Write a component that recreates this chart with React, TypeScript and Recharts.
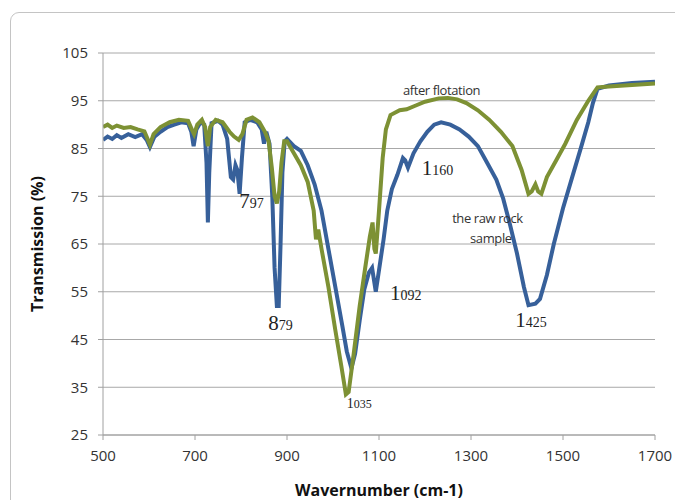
import { CartesianGrid, Label, Line, LineChart, ReferenceDot, XAxis, YAxis } from "recharts"

// raw rock sample (blue)
const rawWavenumber = [
  500, 510, 520, 530, 540, 555, 570, 585, 595, 602, 612, 625, 640, 655, 670, 685, 692, 697, 703, 712,
  720, 725, 728, 731, 736, 750, 760, 770, 778, 783, 788, 792, 797, 802, 808, 820, 835, 845, 850, 855,
  862, 868, 873, 878, 882, 886, 890, 895, 900, 915, 930, 945, 960, 975, 990, 1005, 1020, 1030, 1040, 1048,
  1058, 1068, 1078, 1085, 1093, 1100, 1110, 1118, 1128, 1140, 1152, 1157, 1163, 1175, 1190, 1205, 1220, 1235, 1255, 1275,
  1295, 1315, 1335, 1355, 1370, 1385, 1400, 1415, 1425, 1440, 1450, 1465, 1480, 1500, 1520, 1540, 1555, 1565, 1575, 1600,
  1650, 1700,
]
const rawTransmission = [
  86.8, 87.5, 87.0, 87.8, 87.2, 88.0, 87.4, 88.0, 86.8, 85.3, 87.5, 88.5, 89.5, 90.0, 90.5, 90.3, 88.5, 85.5, 89.0, 90.5,
  90.0, 82.0, 69.5, 80.0, 90.3, 90.8, 90.0, 87.0, 79.0, 78.5, 81.5, 80.5, 75.5, 83.0, 90.5, 91.0, 90.5, 89.0, 86.0, 88.5,
  86.0, 75.0, 60.0, 52.0, 52.0, 65.0, 80.0, 86.5, 87.0, 85.5, 84.5, 81.5, 77.5, 72.0, 64.0, 56.0, 48.0, 42.5, 39.0, 42.0,
  49.0, 55.5, 59.0, 60.0, 55.0, 59.5, 66.0, 72.0, 76.5, 79.5, 83.0, 82.5, 81.0, 84.0, 86.5, 88.5, 90.0, 90.5, 90.0, 89.0,
  87.5, 85.5, 82.0, 78.5, 74.5, 69.0, 63.0, 56.0, 52.2, 52.5, 53.5, 58.5, 65.0, 72.5, 79.0, 85.5, 90.5, 94.5, 97.5, 98.2,
  98.7, 99.0,
]

// after flotation (green)
const flotWavenumber = [
  500, 510, 520, 530, 545, 560, 575, 590, 597, 602, 610, 625, 645, 665, 685, 693, 698, 705, 715, 722,
  728, 733, 745, 760, 775, 785, 795, 803, 812, 825, 840, 852, 860, 867, 873, 878, 883, 888, 894, 900,
  915, 930, 945, 958, 963, 968, 975, 990, 1005, 1018, 1028, 1034, 1045, 1058, 1070, 1080, 1086, 1090, 1093, 1100,
  1108, 1115, 1125, 1145, 1160, 1180, 1200, 1230, 1250, 1270, 1290, 1315, 1340, 1365, 1390, 1410, 1425, 1432, 1440, 1446,
  1453, 1465, 1485, 1505, 1530, 1555, 1575, 1600, 1650, 1700,
]
const flotTransmission = [
  89.5, 90.0, 89.3, 89.8, 89.3, 89.5, 89.0, 88.6, 87.0, 85.8, 88.0, 89.5, 90.5, 91.0, 90.8, 89.0, 88.0, 90.0, 91.0, 89.5,
  85.5, 89.5, 91.0, 90.5, 88.5, 87.5, 86.8, 88.0, 91.0, 91.5, 90.5, 88.5, 86.5, 81.0, 75.0, 73.5, 76.0, 82.0, 86.5, 86.5,
  84.0, 81.5, 78.0, 72.0, 66.0, 68.0, 64.0, 56.0, 47.0, 39.5, 33.5, 34.0, 42.0, 52.0, 60.0, 66.5, 69.5, 64.0, 63.0, 72.0,
  83.0, 89.0, 92.0, 93.0, 93.2, 94.0, 94.8, 95.5, 95.6, 95.3, 94.5, 93.0, 91.0, 88.5, 85.5, 80.5, 75.5, 76.0, 77.5, 76.0,
  75.5, 79.0, 82.5, 86.0, 91.0, 95.0, 97.8, 98.0, 98.3, 98.6,
]

const xTicks = [500, 700, 900, 1100, 1300, 1500, 1700]
const yTicks = [25, 35, 45, 55, 65, 75, 85, 95, 105]

// peak labels: big leading digit + small rest
const peakLabels = [
  { w: 796, t: 72.5, big: "7", small: "97" },
  { w: 859, t: 47, big: "8", small: "79" },
  { w: 1124, t: 53.3, big: "1", small: "092" },
  { w: 1193, t: 79.5, big: "1", small: "160" },
  { w: 1396, t: 47.6, big: "1", small: "425" },
]
const curveNotes = [
  { w: 1152, t: 96.2, text: "after flotation" },
  { w: 1259, t: 69.4, text: "the raw rock" },
  { w: 1298, t: 65.2, text: "sample" },
]

const rawData = rawWavenumber.map((w, i) => ({ w, t: rawTransmission[i] }))
const flotData = flotWavenumber.map((w, i) => ({ w, t: flotTransmission[i] }))

const tickStyle = { fontFamily: "Open Sans", fontSize: 15, fill: "#333" }

export default function App() {
  return (
    <div style={{ position: "absolute", left: 0, top: 0, width: 675, height: 500, overflow: "hidden", background: "#fff" }}>
      <div
        style={{
          position: "absolute",
          left: 10,
          top: 12,
          width: 700,
          height: 520,
          border: "1px solid #c4c4c4",
          borderRadius: 9,
        }}
      />
      <LineChart width={675} height={500} margin={{ top: 53, right: 20, bottom: 35, left: 0 }} style={{ position: "absolute", left: 0, top: 0 }}>
        <CartesianGrid vertical={false} stroke="#a8a8a8" />
        <XAxis
          dataKey="w"
          type="number"
          domain={[500, 1700]}
          ticks={xTicks}
          height={30}
          stroke="#a0a0a0"
          tickSize={5}
          tickMargin={10}
          tick={tickStyle}
          allowDataOverflow
        >
          <Label
            content={({ viewBox }: any) => (
              <text
                x={viewBox.x + viewBox.width / 2}
                y={viewBox.y + 61}
                textAnchor="middle"
                fontFamily="Open Sans"
                fontWeight="bold"
                fontSize={16}
                fill="#111"
              >
                Wavernumber (cm-1)
              </text>
            )}
          />
        </XAxis>
        <YAxis
          type="number"
          domain={[25, 105]}
          ticks={yTicks}
          width={103}
          stroke="#a0a0a0"
          tickSize={5}
          tickMargin={10}
          tick={tickStyle}
          allowDataOverflow
        >
          <Label
            content={({ viewBox }: any) => {
              const cx = 37
              const cy = viewBox.y + viewBox.height / 2
              return (
                <text
                  x={cx}
                  y={cy}
                  transform={`rotate(-90, ${cx}, ${cy})`}
                  textAnchor="middle"
                  dominantBaseline="central"
                  fontFamily="Open Sans"
                  fontWeight="bold"
                  fontSize={16}
                  fill="#111"
                >
                  Transmission (%)
                </text>
              )
            }}
          />
        </YAxis>
        <Line data={rawData} dataKey="t" stroke="#37609a" strokeWidth={4} dot={false} isAnimationActive={false} />
        <Line data={flotData} dataKey="t" stroke="#7d9134" strokeWidth={4} dot={false} isAnimationActive={false} />
        {peakLabels.map((p) => (
          <ReferenceDot
            key={p.big + p.small}
            x={p.w}
            y={p.t}
            r={0}
            fill="none"
            stroke="none"
            label={{
              content: ({ viewBox }: any) => (
                <text x={viewBox.x} y={viewBox.y} fill="#222">
                  <tspan fontFamily="Liberation Serif" fontSize={21}>{p.big}</tspan>
                  <tspan fontFamily="Liberation Serif" fontSize={14}>{p.small}</tspan>
                </text>
              ),
            }}
          />
        ))}
        <ReferenceDot
          x={1030}
          y={30.7}
          r={0}
          fill="none"
          stroke="none"
          label={{
            content: ({ viewBox }: any) => (
              <text x={viewBox.x} y={viewBox.y} fill="#222">
                <tspan fontFamily="Liberation Serif" fontSize={14}>1</tspan>
                <tspan fontFamily="Liberation Serif" fontSize={12}>035</tspan>
              </text>
            ),
          }}
        />
        {curveNotes.map((n) => (
          <ReferenceDot
            key={n.text}
            x={n.w}
            y={n.t}
            r={0}
            fill="none"
            stroke="none"
            label={{
              content: ({ viewBox }: any) => (
                <text x={viewBox.x} y={viewBox.y} fill="#333" fontFamily="Open Sans" fontSize={13} letterSpacing={-0.4}>
                  {n.text}
                </text>
              ),
            }}
          />
        ))}
      </LineChart>
    </div>
  )
}
